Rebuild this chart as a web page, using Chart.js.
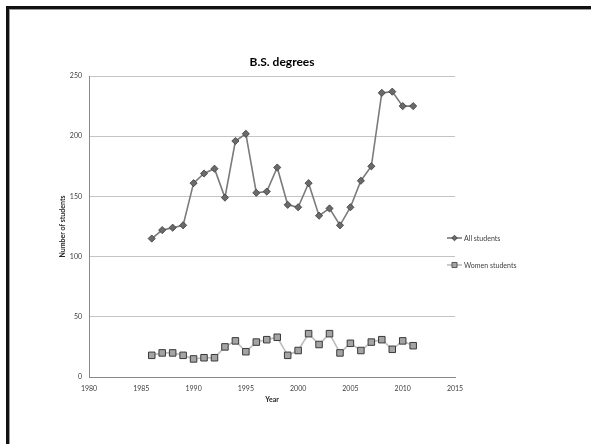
<!DOCTYPE html>
<html>
<head>
<meta charset="utf-8">
<script src="https://cdn.jsdelivr.net/npm/chart.js@4/dist/chart.umd.min.js"></script>
<style>
  html, body { margin: 0; padding: 0; background: #fff; }
  #wrap { position: relative; width: 591px; height: 444px; overflow: hidden; }
  canvas { position: absolute; left: 0; top: 0; }
  #frame {
    position: absolute; left: 6px; top: 6px; right: -10px; bottom: -10px;
    border-left: 3px solid #111; border-top: 3px solid #111;
    box-shadow: inset 1px 1px 0 #9a9a9a;
    pointer-events: none;
  }
</style>
</head>
<body>
<div id="wrap">
  <canvas id="c" width="591" height="444"></canvas>
  <div id="frame"></div>
</div>
<script>
// Graduating classes, one entry per year
const years = [1986, 1987, 1988, 1989, 1990, 1991, 1992, 1993, 1994, 1995, 1996, 1997, 1998,
               1999, 2000, 2001, 2002, 2003, 2004, 2005, 2006, 2007, 2008, 2009, 2010, 2011];
const allStudents = [115, 122, 124, 126, 161, 169, 173, 149, 196, 202, 153, 154, 174,
                     143, 141, 161, 134, 140, 126, 141, 163, 175, 236, 237, 225, 225];
const womenStudents = [18, 20, 20, 18, 15, 16, 16, 25, 30, 21, 29, 31, 33,
                       18, 22, 36, 27, 36, 20, 28, 22, 29, 31, 23, 30, 26];

const seriesNames = ['All students', 'Women students'];
const chartTitle = 'B.S. degrees';
const xTitle = 'Year';
const yTitle = 'Number of students';
const xTicks = [1980, 1985, 1990, 1995, 2000, 2005, 2010, 2015];
const yTicks = [0, 50, 100, 150, 200, 250];

const FONT = 'Lato, "Open Sans", "DejaVu Sans", sans-serif';

function points(values) {
  return years.map((yr, i) => ({ x: yr, y: values[i] }));
}

// Title, axis titles and the side legend are painted on top of the chart
const annotations = {
  id: 'annotations',
  afterDraw(chart) {
    const { ctx, chartArea: a } = chart;
    ctx.save();
    ctx.textAlign = 'center';
    ctx.textBaseline = 'middle';

    ctx.fillStyle = '#000';
    ctx.font = 'bold 12px ' + FONT;
    ctx.fillText(chartTitle, 282, 62);

    ctx.fillStyle = '#262626';
    ctx.font = 'bold 7px ' + FONT;
    ctx.fillText(xTitle, (a.left + a.right) / 2, 400);

    ctx.save();
    ctx.translate(63, (a.top + a.bottom) / 2);
    ctx.rotate(-Math.PI / 2);
    ctx.fillText(yTitle, 0, 0);
    ctx.restore();

    // legend
    const legendMarks = [
      { pointStyle: 'rectRot', radius: 2.8 },
      { pointStyle: 'rect', radius: 3.6 }
    ];
    chart.data.datasets.forEach((ds, i) => {
      const y = 238 + i * 27;
      ctx.strokeStyle = ds.borderColor;
      ctx.lineWidth = ds.borderWidth;
      ctx.beginPath();
      ctx.moveTo(447, y);
      ctx.lineTo(462, y);
      ctx.stroke();
      ctx.fillStyle = ds.pointBackgroundColor;
      ctx.strokeStyle = ds.pointBorderColor;
      ctx.lineWidth = 0.8;
      Chart.helpers.drawPoint(ctx, {
        pointStyle: legendMarks[i].pointStyle,
        radius: legendMarks[i].radius,
        borderWidth: 0.8,
        rotation: 0
      }, 454.5, y);
      ctx.fillStyle = '#404040';
      ctx.font = '7px ' + FONT;
      ctx.textAlign = 'left';
      ctx.fillText(ds.label, 464, y + 0.5);
    });
    ctx.restore();
  }
};

new Chart(document.getElementById('c'), {
  type: 'line',
  data: {
    datasets: [
      {
        label: seriesNames[0],
        data: points(allStudents),
        borderColor: '#7b7b7b',
        borderWidth: 1.6,
        pointStyle: 'rectRot',
        pointRadius: 3.6,
        pointBackgroundColor: '#6a6a6a',
        pointBorderColor: '#3c3c3c',
        pointBorderWidth: 0.8,
        tension: 0
      },
      {
        label: seriesNames[1],
        data: points(womenStudents),
        borderColor: '#bdbdbd',
        borderWidth: 1.6,
        pointStyle: 'rect',
        pointRadius: 4.6,
        pointBackgroundColor: '#a4a4a4',
        pointBorderColor: '#3a3a3a',
        pointBorderWidth: 1,
        tension: 0
      }
    ]
  },
  options: {
    responsive: false,
    animation: false,
    events: [],
    layout: { padding: { left: 0, top: 76, right: 136, bottom: 0 } },
    plugins: { legend: { display: false }, title: { display: false }, tooltip: { enabled: false } },
    scales: {
      x: {
        type: 'linear',
        min: xTicks[0],
        max: xTicks[xTicks.length - 1],
        afterFit(s) { s.height = 67; },
        afterBuildTicks(s) { s.ticks = xTicks.map(v => ({ value: v })); },
        grid: { display: false, drawTicks: false },
        border: { display: true, color: '#8a8a8a', width: 1 },
        ticks: {
          padding: 8,
          color: '#404040',
          font: { family: FONT, size: 7 },
          callback: v => String(v),
          maxRotation: 0
        }
      },
      y: {
        min: yTicks[0],
        max: yTicks[yTicks.length - 1],
        afterFit(s) { s.width = 89; },
        afterBuildTicks(s) { s.ticks = yTicks.map(v => ({ value: v })); },
        grid: { color: '#c4c4c4', lineWidth: 1, drawTicks: false },
        border: { display: true, color: '#8a8a8a', width: 1 },
        ticks: {
          padding: 7,
          color: '#404040',
          font: { family: FONT, size: 7 },
          callback: v => String(v)
        }
      }
    }
  },
  plugins: [annotations]
});
</script>
</body>
</html>
